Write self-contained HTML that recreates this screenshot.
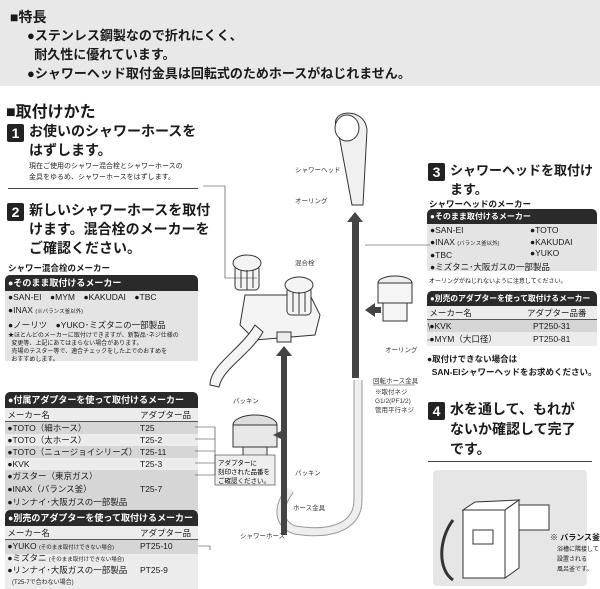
<!DOCTYPE html>
<html><head><meta charset="utf-8">
<style>
*{margin:0;padding:0;box-sizing:border-box}
body{width:600px;height:589px;background:#fff;position:relative;overflow:hidden;font-family:"Liberation Sans","Noto Sans CJK JP",sans-serif;color:#1a1a1a}
.a{position:absolute;white-space:nowrap}
.b{font-weight:bold}
.num{position:absolute;background:#222;color:#fff;font-weight:bold;font-size:14px;text-align:center;line-height:18px;width:17px;height:18px;border-radius:2px}
.hd{position:absolute;background:#2a2a2a;color:#fff;font-weight:bold;font-size:9px;line-height:16px;padding-left:3px;border-radius:5px 5px 0 0;overflow:hidden}
.gb{position:absolute;background:#e4e4e4}
.row{position:absolute;font-size:8.5px;line-height:12px}
.g{background:#d6d6d6}
</style></head><body>
<div class="gb" style="left:0;top:0;width:600px;height:86px;background:#e8e8e8"></div>
<div class="a b" style="left:10px;top:7px;font-size:14px">■特長</div>
<div class="a b" style="left:27px;top:26px;font-size:13px;line-height:19px">●ステンレス鋼製なので折れにくく、<br>&nbsp;&nbsp;耐久性に優れています。<br>●シャワーヘッド取付金具は回転式のためホースがねじれません。</div>
<div class="a b" style="left:6px;top:98px;font-size:16px">■取付けかた</div>
<div class="num" style="left:7px;top:124px">1</div>
<div class="a b" style="left:29px;top:122px;font-size:14px;line-height:19px">お使いのシャワーホースを<br>はずします。</div>
<div class="a" style="left:29px;top:161px;font-size:7px;line-height:11px">現在ご使用のシャワー混合栓とシャワーホースの<br>金具をゆるめ、シャワーホースをはずします。</div>
<div class="a" style="left:8px;top:188px;width:190px;border-top:1px solid #444"></div>
<div class="num" style="left:7px;top:203px">2</div>
<div class="a b" style="left:29px;top:201px;font-size:14px;line-height:19px">新しいシャワーホースを取付<br>けます。混合栓のメーカーを<br>ご確認ください。</div>
<div class="a b" style="left:8px;top:262px;font-size:8.5px">シャワー混合栓のメーカー</div>
<div class="hd" style="left:5px;top:275px;width:193px;height:16px">●そのまま取付けるメーカー</div>
<div class="gb" style="left:5px;top:291px;width:193px;height:70px"></div>
<div class="a" style="left:8px;top:291px;font-size:8.5px;line-height:13px">●SAN-EI　●MYM　●KAKUDAI　●TBC<br>●INAX <span style="font-size:5.5px">(※バランス釜以外)</span><br>●ノーリツ　●YUKO･ミズタニの一部製品</div>
<div class="a" style="left:8px;top:332px;font-size:6px;line-height:8px">★ほとんどのメーカーに取付けできますが、新製品･ネジ仕様の<br>&nbsp;&nbsp;変更等、上記にあてはまらない場合があります。<br>&nbsp;&nbsp;売場のテスター等で、適合チェックをした上でのおすめを<br>&nbsp;&nbsp;おすすめします。</div>

<div class="hd" style="left:5px;top:392px;width:193px;height:16px">●付属アダプターを使って取付けるメーカー</div>
<div class="gb" style="left:5px;top:408px;width:193px;height:104px;background:#ececec"></div>
<div class="row" style="left:5px;top:409px;width:193px;border-bottom:1px solid #555">&nbsp;メーカー名<span style="position:absolute;left:135px">アダプター品番</span></div>
<div class="row g" style="left:5px;top:422px;width:193px">&nbsp;●TOTO（細ホース）<span style="position:absolute;left:135px">T25</span></div>
<div class="row" style="left:5px;top:434px;width:193px">&nbsp;●TOTO（太ホース）<span style="position:absolute;left:135px">T25-2</span></div>
<div class="row g" style="left:5px;top:446px;width:193px">&nbsp;●TOTO（ニュージョイシリーズ）<span style="position:absolute;left:135px">T25-11</span></div>
<div class="row" style="left:5px;top:458px;width:193px">&nbsp;●KVK<span style="position:absolute;left:135px">T25-3</span></div>
<div class="row g" style="left:5px;top:470px;width:193px;height:40px;line-height:13px">&nbsp;●ガスター（東京ガス）<br>&nbsp;●INAX（バランス釜）<span style="position:absolute;left:135px;top:13px">T25-7</span><br>&nbsp;●リンナイ･大阪ガスの一部製品</div>
<div class="hd" style="left:5px;top:510px;width:193px;height:16px">●別売のアダプターを使って取付けるメーカー</div>
<div class="gb" style="left:5px;top:526px;width:193px;height:63px;background:#ececec"></div>
<div class="row" style="left:5px;top:527px;width:193px;border-bottom:1px solid #555">&nbsp;メーカー名<span style="position:absolute;left:135px">アダプター品番</span></div>
<div class="row g" style="left:5px;top:540px;width:193px">&nbsp;●YUKO <span style="font-size:5.5px">(そのまま取付けできない場合)</span><span style="position:absolute;left:135px">PT25-10</span></div>
<div class="row" style="left:5px;top:552px;width:193px">&nbsp;●ミズタニ <span style="font-size:5.5px">(そのまま取付けできない場合)</span></div>
<div class="row" style="left:5px;top:564px;width:193px">&nbsp;●リンナイ･大阪ガスの一部製品<span style="position:absolute;left:135px">PT25-9</span></div>
<div class="a" style="left:12px;top:577px;font-size:6px">(T25-7で合わない場合)</div>

<!-- right -->
<div class="num" style="left:428px;top:163px">3</div>
<div class="a b" style="left:450px;top:161px;font-size:13px;line-height:19px">シャワーヘッドを取付け<br>ます。</div>
<div class="a b" style="left:429px;top:198px;font-size:8.5px">シャワーヘッドのメーカー</div>
<div class="hd" style="left:427px;top:209px;width:170px;height:15px;line-height:15px;font-size:8px">●そのまま取付けるメーカー</div>
<div class="gb" style="left:427px;top:224px;width:170px;height:47px"></div>
<div class="a" style="left:430px;top:225px;font-size:8.5px;line-height:11.5px">●SAN-EI<br>●INAX <span style="font-size:5.5px">(バランス釜以外)</span><br>●TBC<br>●ミズタニ･大阪ガスの一部製品</div>
<div class="a" style="left:530px;top:225px;font-size:8.5px;line-height:11.5px">●TOTO<br>●KAKUDAI<br>●YUKO</div>
<div class="a" style="left:429px;top:276px;font-size:6px">オーリングがねじれないように注意してください。</div>
<div class="hd" style="left:427px;top:291px;width:170px;height:15px;line-height:15px;font-size:7.8px">●別売のアダプターを使って取付けるメーカー</div>
<div class="gb" style="left:427px;top:306px;width:170px;height:40px;background:#ececec"></div>
<div class="row" style="left:427px;top:307px;width:170px;border-bottom:1px solid #555">&nbsp;メーカー名<span style="position:absolute;left:100px">アダプター品番</span></div>
<div class="row g" style="left:427px;top:320px;width:170px">&nbsp;●KVK<span style="position:absolute;left:106px">PT250-31</span></div>
<div class="row" style="left:427px;top:333px;width:170px">&nbsp;●MYM（大口径）<span style="position:absolute;left:106px">PT250-81</span></div>
<div class="a b" style="left:427px;top:353px;font-size:8.5px;line-height:13px">●取付けできない場合は<br>&nbsp;&nbsp;SAN-EIシャワーヘッドをお求めください。</div>
<div class="num" style="left:428px;top:402px">4</div>
<div class="a b" style="left:450px;top:399px;font-size:14px;line-height:20px">水を通して、もれが<br>ないか確認して完了<br>です。</div>
<div class="a" style="left:428px;top:461px;width:164px;border-top:1px solid #444"></div>
<div class="gb" style="left:433px;top:470px;width:154px;height:116px;border-radius:4px;background:#e6e6e6"></div>
<svg class="a" style="left:433px;top:470px" width="154" height="116">
<g fill="#fff" stroke="#333" stroke-width="1">
<rect x="30" y="40" width="42" height="68"/>
<polygon points="30,40 42,32 86,30 72,40"/>
<polygon points="72,40 86,30 86,98 72,108"/>
<rect x="40" y="60" width="20" height="14"/>
<rect x="86" y="35" width="30" height="25"/>
</g>
<path d="M20,50 C5,70 5,100 20,110" fill="none" stroke="#333" stroke-width="3"/>
</svg>
<div class="a" style="left:550px;top:533px;font-size:8px;line-height:10px;font-weight:bold">※ バランス釜</div>
<div class="a" style="left:557px;top:545px;font-size:6px;line-height:10px">浴槽に隣接して<br>設置される<br>風呂釜です。</div>

<!-- diagram -->
<svg class="a" style="left:195px;top:100px" width="235" height="450">
<g fill="none" stroke="#333" stroke-width="1">
<path d="M143,30 C130,10 170,5 172,30 L168,105 L157,105 Z" fill="#f0f0f0"/>
<ellipse cx="152" cy="28" rx="12" ry="13" fill="#fff"/>
<path d="M163,280 L163,400 C163,430 130,435 100,430 C85,425 80,410 95,390" stroke="#999" stroke-width="9"/>
<path d="M163,280 L163,400 C163,430 130,435 100,430 C85,425 80,410 95,390" stroke="#eee" stroke-width="7"/>
<path d="M50,195 L115,195 L125,215 L120,235 L60,240 L45,225 Z" fill="#f4f4f4"/>
<path d="M15,285 C15,265 45,250 60,225 L68,232 C55,255 28,268 24,287 Z" fill="#f4f4f4"/>
<rect x="40" y="165" width="24" height="25" rx="4" fill="#f4f4f4"/>
<ellipse cx="52" cy="163" rx="14" ry="8" fill="#f4f4f4"/>
<path d="M46,170 L46,188 M52,170 L52,190 M58,170 L58,188"/>
<rect x="92" y="187" width="24" height="28" rx="4" fill="#f4f4f4"/>
<ellipse cx="104" cy="185" rx="14" ry="8" fill="#f4f4f4"/>
<path d="M98,192 L98,212 M104,192 L104,214 M110,192 L110,212"/>
<rect x="82" y="232" width="14" height="10" fill="#eee"/>
<ellipse cx="60" cy="325" rx="22" ry="10" fill="#ddd"/>
<rect x="38" y="325" width="44" height="22" fill="#e8e8e8"/>
<rect x="48" y="347" width="24" height="12" fill="#e8e8e8"/>
<ellipse cx="200" cy="183" rx="17" ry="7" fill="#eee"/>
<rect x="183" y="183" width="34" height="20" fill="#f5f5f5"/>
<rect x="188" y="203" width="24" height="18" fill="#f5f5f5"/>
</g>
<rect x="157" y="118" width="7" height="160" fill="#444"/>
<polygon points="152,122 160,112 168,122" fill="#444"/>
<rect x="86" y="252" width="6" height="183" fill="#444"/>
<polygon points="81,256 89,246 97,256" fill="#444"/>
<polygon points="78,335 88,330 88,340" fill="#444"/>
<polygon points="170,210 180,203 180,217" fill="#444"/>
<rect x="180" y="207" width="6" height="6" fill="#444"/>
<g font-size="6.5" fill="#333" font-family="Liberation Sans,Noto Sans CJK JP,sans-serif">
<text x="100" y="72">シャワーヘッド</text>
<text x="100" y="103">オーリング</text>
<text x="100" y="165">混合栓</text>
<text x="190" y="252">オーリング</text>
<text x="178" y="283">回転ホース金具</text>
<text x="180" y="294">※取付ネジ</text>
<text x="180" y="303">G1/2(PF1/2)</text>
<text x="180" y="312">管用平行ネジ</text>
<text x="38" y="303">パッキン</text>
<text x="100" y="375">パッキン</text>
<text x="98" y="410">ホース金具</text>
<text x="45" y="438">シャワーホース</text>
</g>
<rect x="20" y="355" width="60" height="30" fill="#eee" stroke="#333" stroke-width="0.6"/>
<text x="23" y="365" font-size="6.5" font-family="Liberation Sans,Noto Sans CJK JP,sans-serif">アダプターに</text>
<text x="23" y="374" font-size="6.5" font-family="Liberation Sans,Noto Sans CJK JP,sans-serif">刻印された品番を</text>
<text x="23" y="383" font-size="6.5" font-family="Liberation Sans,Noto Sans CJK JP,sans-serif">ご確認ください。</text>
<g stroke="#333" stroke-width="0.6" fill="none">
<path d="M8,86 L30,86 L30,178 L62,178"/>
<path d="M0,327 L20,327 M0,339 L20,339 M0,351 L20,351 M0,363 L20,363 M0,375 L20,375 M20,327 L20,375 L5,375"/>
<path d="M3,446 L15,446 L15,470 L3,470"/>
<path d="M170,145 L235,145"/>
<path d="M233,223 L238,240 L232,240"/>
<path d="M178,285 L220,285"/>
</g>
</svg>
</body></html>
